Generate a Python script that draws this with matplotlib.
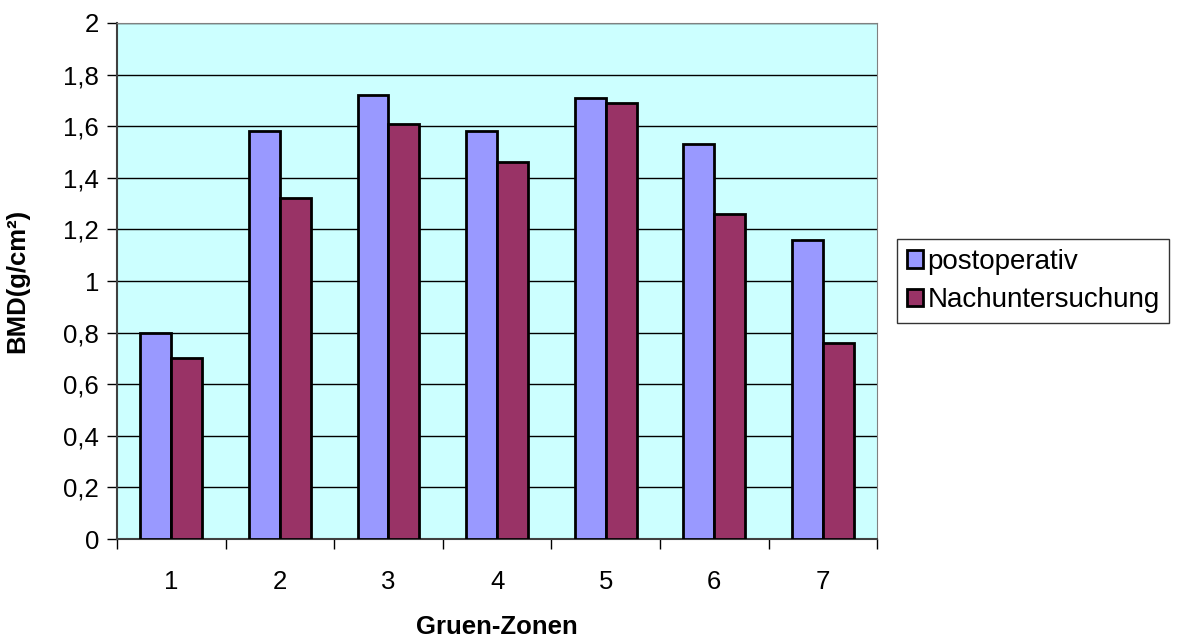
import matplotlib as mpl
mpl.use('Agg')
import matplotlib.pyplot as plt
import numpy as np

plt.rcParams['font.family'] = ['Liberation Sans', 'DejaVu Sans']

# data
zones = ['1', '2', '3', '4', '5', '6', '7']
postoperativ = [0.80, 1.58, 1.72, 1.58, 1.71, 1.53, 1.16]
nachuntersuchung = [0.70, 1.32, 1.61, 1.46, 1.69, 1.26, 0.76]
y_ticks = [0, 0.2, 0.4, 0.6, 0.8, 1.0, 1.2, 1.4, 1.6, 1.8, 2.0]
y_labels = ['0', '0,2', '0,4', '0,6', '0,8', '1', '1,2', '1,4', '1,6', '1,8', '2']

fig = plt.figure(figsize=(11.8, 6.42), dpi=100)
ax = fig.add_axes([0.0992, 0.1604, 0.6441, 0.8038])
ax.set_facecolor('#CCFFFF')

x = np.arange(1, len(zones) + 1)
w = 0.285
ax.bar(x - w / 2, postoperativ, w, color='#9999FF', edgecolor='black',
       linewidth=2, label='postoperativ', zorder=3)
ax.bar(x + w / 2, nachuntersuchung, w, color='#993366', edgecolor='black',
       linewidth=2, label='Nachuntersuchung', zorder=3)

ax.set_xlim(0.5, 7.5)
ax.set_ylim(0, 2)
ax.set_yticks(y_ticks)
ax.set_yticklabels(y_labels)
ax.yaxis.grid(True, color='black', linewidth=1, zorder=1)
ax.set_axisbelow(True)

ax.set_xticks(x)
ax.set_xticklabels(zones)
ax.set_xticks(np.arange(0.5, 8.0, 1.0), minor=True)
ax.tick_params(axis='x', which='major', length=0, pad=22, labelsize=18.5)
ax.tick_params(axis='x', which='minor', length=7, width=1, direction='out')
ax.tick_params(axis='y', length=7, width=1, direction='out', pad=6, labelsize=18.5)

for s in ['top', 'right']:
    ax.spines[s].set_color('#808080')
for s in ['left', 'bottom']:
    ax.spines[s].set_color('#404040')
    ax.spines[s].set_linewidth(1.5)

ax.set_xlabel('Gruen-Zonen', fontsize=18.5, fontweight='bold')
ax.set_ylabel('BMD(g/cm²)', fontsize=18.5, fontweight='bold')
ax.xaxis.set_label_coords(0.5, -0.148)
ax.yaxis.set_label_coords(-0.115, 0.5)

leg = ax.legend(loc='center left', bbox_to_anchor=(1.026, 0.5), fontsize=20,
                frameon=True, fancybox=False, handlelength=0.6, handleheight=0.6,
                handletextpad=0.15, borderpad=0.35, labelspacing=0.45,
                borderaxespad=0)
leg.get_frame().set_edgecolor('black')
leg.get_frame().set_linewidth(1)

fig.savefig('out.png', dpi=100)
